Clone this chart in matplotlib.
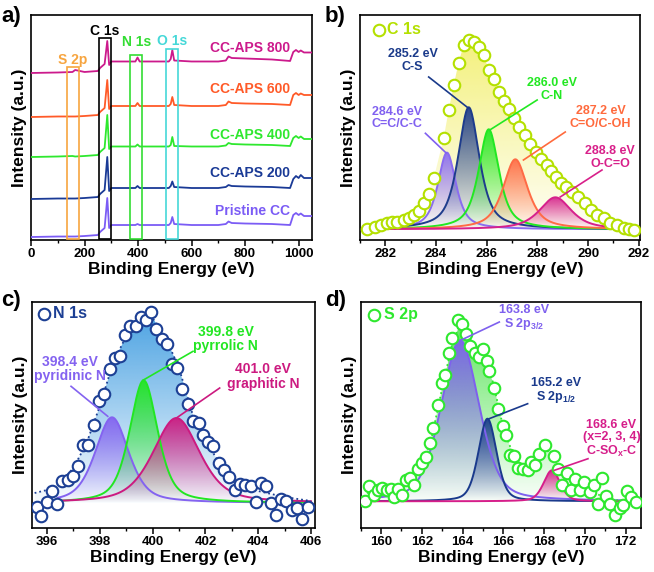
import numpy as np
import matplotlib.pyplot as plt
import matplotlib.colors as mcolors
from matplotlib.patches import Rectangle
from matplotlib.ticker import MultipleLocator

plt.rcParams['font.family'] = ['Liberation Sans', 'DejaVu Sans']
plt.rcParams['font.weight'] = 'bold'
plt.rcParams['axes.labelweight'] = 'bold'

# ---- a) survey spectra (arbitrary units, unshifted stacks read off the plot)
survey_ev = [0, 100, 155, 165, 200, 250, 258, 275, 285, 292, 300, 350, 390, 398, 406,
             450, 515, 522, 528, 535, 600, 700, 728, 738, 750, 800, 900, 968, 980, 990,
             1000, 1008, 1020, 1050]
pristine = [3, 3.5, 3.5, 3.5, 4, 5, 8, 12, 42, 12, 15, 15, 15, 16, 15, 15, 15, 17, 23, 16,
            15, 15, 16, 18.5, 17, 16.5, 16, 15, 25, 27, 25, 26.5, 24, 24]
aps200 = [41, 41.5, 41.5, 41.5, 42, 43, 46, 50, 83, 49, 52, 52, 52, 54, 52, 52, 52, 54,
          58.5, 53, 52, 52, 53, 55, 54, 53.5, 53, 52, 61, 64, 62, 65, 62, 62]
aps400 = [83, 83.5, 84, 83.5, 84, 85, 88, 92, 125, 91, 93.5, 93.5, 93.5, 95.5, 93.5, 93.5,
          93.5, 95, 103, 94, 93.5, 93.5, 94.5, 97, 96, 95.5, 95, 94, 102, 104, 102, 103.5,
          101, 101]
aps600 = [123, 123.5, 123.5, 123.5, 124, 125, 128, 132, 160, 131, 134, 134, 134, 137, 134,
          134, 134, 136, 143, 135, 134, 134, 135, 138.5, 137, 136.5, 136, 135, 145, 147,
          145, 146.5, 145, 145]
aps800 = [167, 167.5, 168, 170, 168, 169, 172, 176, 199, 175, 178.5, 178.5, 178.5, 182.5,
          178.5, 178.5, 178.5, 181, 190, 179.5, 178.5, 178.5, 179.5, 183.5, 182, 181.5,
          180.5, 179, 188, 190, 188, 189.5, 187.5, 187.5]
survey_names = ['Pristine CC', 'CC-APS 200', 'CC-APS 400', 'CC-APS 600', 'CC-APS 800']

# ---- b) C 1s
c1s_ev = [281.28, 281.58, 281.83, 282.07, 282.26, 282.46, 282.72, 282.92, 283.14, 283.32,
          283.51, 283.71, 283.91, 284.30, 284.50, 284.70, 284.89, 285.09, 285.29, 285.49,
          285.68, 285.88, 286.08, 286.28, 286.47, 286.70, 286.89, 287.09, 287.29, 287.50,
          287.72, 287.95, 288.16, 288.36, 288.55, 288.75, 288.95, 289.14, 289.37, 289.59,
          289.86, 290.12, 290.36, 290.62, 290.88, 291.14, 291.41, 291.61, 291.80]
c1s_int = [10.7, 12.7, 15, 17.3, 17.7, 18.3, 20, 21.7, 25, 29.3, 36.7, 46, 61.7, 101.7,
           130, 155, 177.3, 195, 200, 198.3, 193.3, 185, 170, 161, 148.3, 139.3, 130.7,
           121.7, 113.3, 105, 96, 88.3, 81, 75, 69, 63.3, 57.3, 52.7, 47.7, 42.7, 36.7, 30,
           25, 21.7, 17.3, 15, 11.7, 10.7, 10]
c1s_labels = ['284.6 eV\nC=C/C-C', '285.2 eV\nC-S', '286.0 eV\nC-N',
              '287.2 eV\nC=O/C-OH', '288.8 eV\nO-C=O']
c1s_centers = [284.43, 285.29, 286.08, 287.13, 288.71]
c1s_heights = [76.7, 122, 100, 70, 32]
c1s_fwhm = [0.85, 1.0, 0.95, 1.15, 1.5]
c1s_base = 10.7

# ---- c) N 1s
n1s_ev = [395.62, 395.77, 396.00, 396.19, 396.38, 396.57, 396.78, 396.97, 397.16, 397.38,
          397.57, 397.77, 397.95, 398.15, 398.37, 398.56, 398.77, 398.94, 399.16, 399.38,
          399.57, 399.76, 399.95, 400.14, 400.35, 400.56, 400.75, 400.94, 401.13, 401.34,
          401.53, 401.75, 401.91, 402.10, 402.29, 402.51, 402.70, 402.90, 403.11, 403.30,
          403.49, 403.71, 403.90, 404.10, 404.29, 404.47, 404.67, 404.86, 405.05, 405.27,
          405.46, 405.67, 405.87]
n1s_int = [21, 12.3, 26, 37.3, 24.3, 46.7, 47.7, 52.3, 61.7, 82.7, 83.3, 103.3, 126.7,
           134.3, 159.3, 170, 171.7, 193.3, 202.3, 201.7, 211, 207.7, 215.7, 199, 189, 184,
           164.3, 160, 139.3, 124, 107.3, 105, 92.7, 85.7, 81.7, 65, 58.3, 51, 38.3, 44,
           43.3, 41.7, 26.3, 45, 41.7, 25, 12.7, 29, 26.7, 17.7, 20, 9, 21]
n1s_env_ev = [395.53, 396.0, 396.5, 397.0, 397.5, 398.0, 398.5, 399.0, 399.5, 400.0, 400.5,
              401.0, 401.5, 402.0, 402.5, 403.0, 403.5, 404.0, 404.5, 405.0, 405.5, 406.0]
n1s_env = [35, 38, 45, 60, 85, 122, 165, 192, 207, 210, 190, 160, 115, 88, 66, 47, 40, 37,
           34, 31, 29, 27]
n1s_labels = ['398.4 eV\npyridinic N', '399.8 eV\npyrrolic N', '401.0 eV\ngraphitic N']
n1s_centers = [398.46, 399.66, 400.9]
n1s_heights = [85.7, 122.7, 85]
n1s_fwhm = [1.5, 1.25, 2.1]
n1s_base = 25

# ---- d) S 2p
s2p_ev = [159.23, 159.39, 159.64, 159.85, 160.05, 160.30, 160.49, 160.62, 160.84, 161.03,
          161.20, 161.41, 161.61, 161.81, 162.02, 162.18, 162.40, 162.56, 162.81, 162.97,
          163.12, 163.33, 163.50, 163.76, 163.96, 164.15, 164.37, 164.60, 164.81, 164.98,
          165.19, 165.30, 165.55, 165.76, 165.96, 166.12, 166.32, 166.50, 166.70, 166.95,
          167.19, 167.36, 167.57, 167.77, 168.06, 168.47, 168.70, 168.88, 169.11, 169.33,
          169.49, 169.74, 169.95, 170.23, 170.44, 170.64, 170.85, 171.05, 171.25, 171.46,
          171.71, 171.87, 172.04, 172.28, 172.50]
s2p_int = [26.7, 42, 32.7, 37.7, 40.3, 37.7, 39.3, 30.7, 39.3, 33.3, 47.7, 50, 42.7, 59.3,
           65.3, 71, 85.3, 100, 122.7, 145, 152.7, 175, 190, 208.3, 204.3, 194.3, 182,
           175.3, 171, 179.3, 166.7, 156.7, 140, 119.3, 102, 93.3, 72.7, 71.7, 60, 59.3,
           57.7, 66, 62.7, 74.3, 83.3, 71.7, 58.7, 42.7, 55.3, 38.3, 48.7, 37.7, 46, 36,
           43.3, 24.3, 50.3, 32, 24.3, 12.7, 20, 23.3, 36.7, 31, 26]
s2p_env_ev = [159.3, 160.0, 161.0, 161.5, 162.0, 162.5, 163.0, 163.5, 163.8, 164.0, 164.5,
              165.0, 165.5, 166.0, 166.5, 167.0, 167.5, 168.0, 168.3, 168.7, 169.0, 169.5,
              170.0, 170.5, 171.0, 171.5, 172.0, 172.4]
s2p_env = [35, 38, 42, 50, 62, 92, 140, 185, 200, 200, 185, 175, 145, 100, 72, 60, 62, 75,
           78, 62, 52, 45, 40, 35, 30, 28, 27, 27]
s2p_labels = ['163.8 eV\nS 2p$_{\\mathregular{3/2}}$', '165.2 eV\nS 2p$_{\\mathregular{1/2}}$',
              '168.6 eV\n(x=2, 3, 4)\nC-SO$_{\\mathregular{x}}$-C']
s2p_centers = [163.88, 165.22, 168.38]
s2p_heights = [161, 82.6, 31]
s2p_fwhm = [2.2, 1.05, 0.95]
s2p_base = 26.7


def pv(x, c, h, w, eta=0.6):
    g = np.exp(-4 * np.log(2) * (x - c) ** 2 / w ** 2)
    l = 1 / (1 + 4 * (x - c) ** 2 / w ** 2)
    return h * (eta * l + (1 - eta) * g)


def grad_fill(ax, x, y, base, color, a_top, a_bot, z):
    x = np.asarray(x, float)
    y = np.asarray(y, float)
    poly = ax.fill_between(x, y, base, facecolor='none', edgecolor='none', zorder=z)
    img = np.zeros((200, 1, 4))
    img[..., :3] = mcolors.to_rgb(color)
    img[:, 0, 3] = np.linspace(a_bot, a_top, 200)
    im = ax.imshow(img, extent=[x.min(), x.max(), base, y.max()], origin='lower',
                   aspect='auto', zorder=z, interpolation='bilinear')
    im.set_clip_path(poly.get_paths()[0], transform=ax.transData)


def style(ax, xlim, ylim, major, minor):
    ax.set_xlim(xlim)
    ax.set_ylim(ylim)
    ax.xaxis.set_major_locator(MultipleLocator(major))
    ax.xaxis.set_minor_locator(MultipleLocator(minor))
    ax.tick_params(axis='x', which='major', direction='out', length=4, width=1.1,
                   labelsize=9.5, pad=2)
    ax.tick_params(axis='x', which='minor', direction='out', length=2.2, width=1)
    ax.tick_params(axis='y', which='both', left=False, labelleft=False)
    for s in ax.spines.values():
        s.set_linewidth(1.2)
    ax.set_xlabel('Binding Energy (eV)', fontsize=12.5, labelpad=1)
    ax.set_ylabel('Intensity (a.u.)', fontsize=12.5, labelpad=3)


def components(ax, xr, base, centers, heights, fwhm, colors, eta):
    xx = np.linspace(xr[0], xr[1], 600)
    for i, (c, h, w, col) in enumerate(zip(centers, heights, fwhm, colors)):
        yy = base + pv(xx, c, h, w, eta)
        grad_fill(ax, xx, yy, base, col, 0.95, 0.0, 2 + i * 0.1)
        ax.plot(xx, yy, color=col, lw=1.4, zorder=3 + i * 0.1)


def labels(ax, texts, pos, lines, colors, fs):
    for t, p, ln, col in zip(texts, pos, lines, colors):
        ax.text(p[0], p[1], t, color=col, fontsize=fs, ha='center', va='center',
                linespacing=1.05, zorder=6)
        ax.plot([ln[0], ln[2]], [ln[1], ln[3]], color=col, lw=1.2, zorder=6)


MS = 8.3

fig = plt.figure(figsize=(6.54, 5.72), dpi=100)

# ---------------- a)
ax = fig.add_axes([0.0474, 0.5804, 0.4297, 0.3934])
survey_cols = ['#7b5cf5', '#1a3a96', '#2ee82e', '#ff5a28', '#cc1a8c']
for ys, name, col, ly in zip([pristine, aps200, aps400, aps600, aps800], survey_names,
                             survey_cols, [29, 67, 105, 151, 192]):
    ax.plot(survey_ev, ys, color=col, lw=1.3, zorder=3)
    ax.text(968, ly, name, color=col, fontsize=10, ha='right', va='center')
for x0, x1, top, col, lab, lx, lyy in [(133, 178, 173, '#f7a540', 'S 2p', 156, 180),
                                        (254, 299, 202, 'black', 'C 1s', 277, 209),
                                        (370, 416, 185, '#33dd33', 'N 1s', 393, 198),
                                        (503, 548, 191, '#45d8d8', 'O 1s', 526, 199)]:
    ax.add_patch(Rectangle((x0, 0.8), x1 - x0, top - 0.8, fill=False, edgecolor=col,
                           lw=1.2, zorder=4))
    ax.text(lx, lyy, lab, color=col, fontsize=10, ha='center', va='center')
style(ax, (0, 1050), (0, 225), 200, 100)

# ---------------- b)
ax = fig.add_axes([0.5505, 0.5804, 0.4281, 0.3934])
grad_fill(ax, c1s_ev, c1s_int, c1s_base, '#f0ec50', 0.75, 0.05, 1)
c1s_cols = ['#8a6cf0', '#1e3c8c', '#22e822', '#ff6b45', '#d6218c']
components(ax, (281.8, 290.9), c1s_base, c1s_centers, c1s_heights, c1s_fwhm, c1s_cols, 0.7)
ax.plot(c1s_ev, c1s_int, 'o', ms=MS, mfc='white', mec='#b4e000', mew=1.5, zorder=5)
labels(ax, c1s_labels,
       [(282.46, 122), (283.07, 179.5), (288.58, 150.5), (290.49, 122.5), (290.88, 82.5)],
       [(283.58, 106.7, 284.4, 87), (283.71, 163, 285.27, 132), (287.99, 140, 286.12, 110),
        (289.1, 108, 287.45, 80), (290.55, 70, 288.9, 43)],
       ['#8060f0', '#1a3a8a', '#22e822', '#ff6a3d', '#d8208a'], 9)
ax.plot([281.76], [210], 'o', ms=MS, mfc='white', mec='#b4e000', mew=1.5, zorder=6)
ax.text(282.07, 210, 'C 1s', color='#b4e000', fontsize=11.5, va='center', ha='left')
style(ax, (281, 292.05), (0, 225), 2, 1)

# ---------------- c)
ax = fig.add_axes([0.0489, 0.0769, 0.4327, 0.3951])
grad_fill(ax, n1s_env_ev, n1s_env, n1s_base, '#3d9be0', 0.9, 0.03, 1)
ax.plot(n1s_env_ev, n1s_env, ':', color='#1c3f94', lw=1.3, zorder=4)
n1s_cols = ['#8463f0', '#22e622', '#cc1a80']
components(ax, (396.4, 406.0), n1s_base, n1s_centers, n1s_heights, n1s_fwhm, n1s_cols, 0.5)
ax.plot(n1s_ev, n1s_int, 'o', ms=MS, mfc='white', mec='#1c3f94', mew=1.5, zorder=5)
labels(ax, n1s_labels,
       [(396.85, 158.8), (402.77, 189), (404.19, 151.5)],
       [(396.91, 141.7, 398.3, 111.7), (401.53, 176.7, 399.63, 147.7),
        (402.54, 140, 400.9, 110)],
       ['#8463f0', '#22e622', '#cc1a80'], 10)
ax.plot([395.87], [214.3], 'o', ms=MS, mfc='white', mec='#1c3f94', mew=1.5, zorder=6)
ax.text(396.22, 214.3, 'N 1s', color='#1c3f94', fontsize=11.5, va='center', ha='left')
style(ax, (395.43, 406.15), (0, 226), 2, 1)

# ---------------- d)
ax = fig.add_axes([0.5515, 0.0769, 0.4286, 0.3951])
grad_fill(ax, s2p_env_ev, s2p_env, s2p_base, '#3ee03e', 0.8, 0.03, 1)
ax.plot(s2p_env_ev, s2p_env, ':', color='#2ee82e', lw=1.3, zorder=4)
s2p_cols = ['#7e60ee', '#1a3a8c', '#d61e8a']
components(ax, (159.3, 172.3), s2p_base, s2p_centers, s2p_heights, s2p_fwhm, s2p_cols, 0.35)
ax.plot(s2p_ev, s2p_int, 'o', ms=MS, mfc='white', mec='#2ee82e', mew=1.5, zorder=5)
labels(ax, s2p_labels,
       [(167.03, 210), (168.59, 136.8), (171.3, 89.3)],
       [(165.8, 206, 163.9, 187.7), (167.19, 124.3, 165.3, 109.3),
        (170.15, 69.3, 168.5, 57.7)],
       ['#7e60ee', '#1a3a8c', '#d61e8a'], 9)
ax.plot([159.64], [213.3], 'o', ms=MS, mfc='white', mec='#2ee82e', mew=1.5, zorder=6)
ax.text(160.13, 213.3, 'S 2p', color='#2ee82e', fontsize=11.5, va='center', ha='left')
style(ax, (159.0, 172.75), (0, 226), 2, 1)

for t, x, y in [('a)', 0.002, 0.972), ('b)', 0.497, 0.972), ('c)', 0.002, 0.475),
                ('d)', 0.497, 0.475)]:
    fig.text(x, y, t, fontsize=16, ha='left', va='center')

fig.savefig('out.png', dpi=100)
